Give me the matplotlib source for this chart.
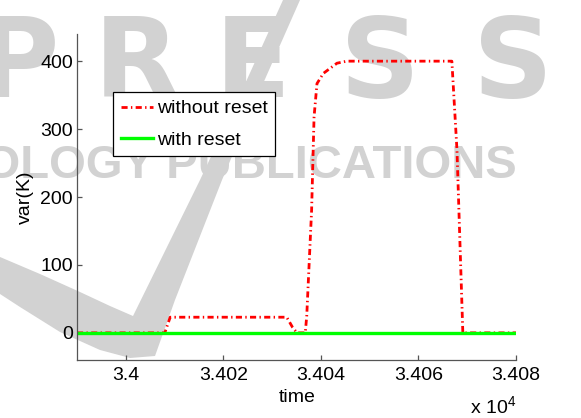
import matplotlib
matplotlib.use("Agg")
import matplotlib.pyplot as plt
from matplotlib.patches import Polygon

plt.rcParams['font.family'] = ['Liberation Sans', 'DejaVu Sans']
plt.rcParams['mathtext.default'] = 'regular'

# ---- data ----
time_red = [33990, 34008.0, 34009.1, 34033.0, 34034.2, 34035.1, 34036.8, 34037.1,
            34038.1, 34038.6, 34039.2, 34040.5, 34043.3, 34045.3, 34066.85,
            34067.9, 34069.1, 34080]
var_red = [0, 0, 23, 23, 8, 0, 0, 25, 181, 318, 367, 382, 397, 400, 400, 269, 0, 0]
time_green = [33990, 34080]
var_green = [0, 0]
label_red = "without reset"
label_green = "with reset"
xticks = [34000, 34020, 34040, 34060, 34080]
xticklabels = ["3.4", "3.402", "3.404", "3.406", "3.408"]
yticks = [0, 100, 200, 300, 400]

W, H = 581, 418
FS = 14
fig = plt.figure(figsize=(W / 100, H / 100), dpi=100)

# ---- watermark (behind everything) ----
wm = '#d2d2d2'
for letter, cx in zip("PRESS", [18, 137, 253, 380, 513]):
    fig.text(cx / W, 1 - 97 / H, letter, ha='center', va='baseline',
             fontsize=80, fontweight='bold', color=wm, family='DejaVu Sans', zorder=-5)
fig.text(517 / W, 1 - 178 / H, "TECHNOLOGY PUBLICATIONS", ha='right', va='baseline',
         fontsize=34, fontweight='bold', color=wm, family='Liberation Sans', zorder=-5)
sw = [(0, 257), (40, 274), (80, 292), (110, 306), (133, 316), (200, 180), (240, 95),
      (283, 0), (300, 0), (258, 95), (222, 180), (175, 300), (155, 356), (130, 358),
      (100, 350), (60, 332), (20, 307), (0, 294)]
fig.patches.append(Polygon([(x / W, 1 - y / H) for x, y in sw], closed=True,
                           transform=fig.transFigure, facecolor=wm, edgecolor='none',
                           zorder=-6))

ax = fig.add_axes([77 / W, 1 - 360 / H, (516 - 77) / W, (360 - 34) / H])
ax.set_facecolor('none')

ax.plot(time_red, var_red, color='#ff0000', lw=2.0,
        linestyle=(0, (2.2, 1.2, 0.5, 1.2)), label=label_red)
ax.plot(time_green, var_green, color='#00ff00', lw=2.4, label=label_green)

ax.set_xlim(33990, 34080)
ax.set_ylim(-40, 440)
ax.set_xticks(xticks)
ax.set_xticklabels(xticklabels)
ax.set_yticks(yticks)

for s in ['top', 'right']:
    ax.spines[s].set_visible(False)
for s in ['left', 'bottom']:
    ax.spines[s].set_color('#555555')
    ax.spines[s].set_linewidth(0.9)
ax.tick_params(direction='in', length=3.5, width=0.9, color='#555555',
               labelsize=FS, labelcolor='black')
ax.tick_params(axis='x', pad=5)
ax.tick_params(axis='y', pad=3)

fig.text(297 / W, 1 - 397 / H, "time", ha='center', va='center', fontsize=FS)
fig.text(25 / W, 1 - 197 / H, "var(K)", ha='center', va='center', fontsize=FS,
         rotation=90)
fig.text(516 / W, 1 - 413 / H, r"x 10$^{4}$", ha='right', va='baseline', fontsize=FS)

leg = ax.legend(loc='upper left', bbox_to_anchor=(113 / W, 1 - 92 / H),
                bbox_transform=fig.transFigure, borderaxespad=0, fontsize=FS,
                fancybox=False, framealpha=1, edgecolor='black',
                handlelength=1.65, handletextpad=0.2, labelspacing=0.7,
                borderpad=0.4)
leg.get_frame().set_linewidth(0.9)

fig.savefig("out.png", dpi=100)
